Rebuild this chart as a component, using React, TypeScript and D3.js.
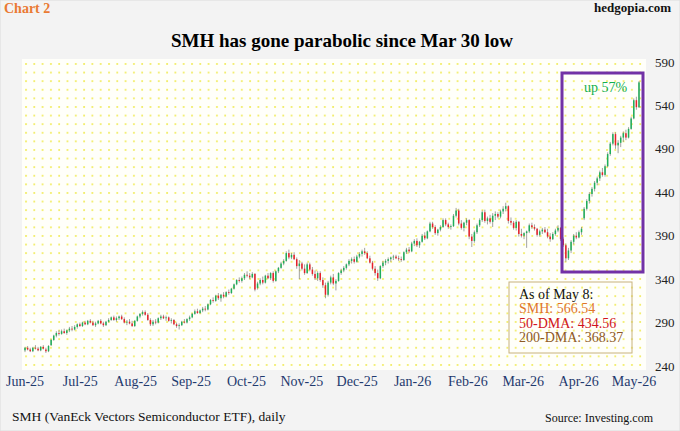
import * as d3 from "d3";

type Candle = [number, number, number, number]; // open, high, low, close

// daily SMH candles
const jun25: Candle[] = [
  [258, 262, 256, 261], [261, 263, 258, 259], [259, 261, 256, 257], [257, 262, 256, 261],
  [261, 264, 259, 260], [260, 262, 257, 258], [258, 263, 257, 262], [262, 264, 259, 260],
  [259, 261, 255, 257], [257, 264, 256, 263], [264, 271, 263, 270], [270, 276, 269, 275],
  [275, 280, 273, 278], [278, 281, 275, 277], [277, 282, 276, 280], [280, 283, 277, 278],
  [278, 282, 276, 281], [281, 285, 279, 283], [283, 286, 280, 282], [282, 287, 281, 285],
];
const jul25: Candle[] = [
  [285, 289, 283, 288], [288, 290, 285, 286], [286, 291, 285, 290], [290, 292, 287, 288],
  [288, 293, 287, 292], [292, 294, 289, 290], [290, 292, 286, 287], [287, 291, 285, 289],
  [289, 293, 288, 292], [292, 294, 288, 289], [289, 291, 285, 287], [287, 292, 286, 291],
  [291, 295, 290, 293], [293, 297, 292, 296], [296, 298, 292, 293], [293, 297, 291, 295],
  [295, 298, 293, 297], [297, 299, 293, 294], [294, 296, 289, 290], [290, 293, 287, 291],
  [291, 294, 288, 289], [289, 292, 285, 286],
];
const aug25: Candle[] = [
  [286, 293, 285, 292], [292, 298, 291, 297], [297, 301, 295, 300], [300, 304, 298, 302],
  [302, 304, 298, 299], [299, 301, 292, 293], [293, 295, 286, 288], [288, 293, 286, 291],
  [291, 294, 288, 290], [290, 296, 289, 295], [295, 299, 293, 297], [297, 299, 294, 295],
  [295, 298, 292, 296], [296, 297, 291, 292], [292, 295, 289, 293], [293, 294, 287, 288],
  [288, 290, 284, 286], [286, 289, 282, 287], [287, 292, 286, 291], [291, 294, 289, 290],
  [290, 295, 289, 294],
];
const sep25: Candle[] = [
  [294, 298, 292, 296], [296, 301, 295, 300], [300, 305, 299, 303], [303, 306, 300, 301],
  [301, 305, 300, 304], [304, 308, 302, 306], [306, 309, 303, 305], [305, 312, 304, 311],
  [311, 317, 310, 316], [316, 319, 313, 315], [315, 322, 314, 321], [321, 324, 316, 318],
  [318, 323, 314, 322], [322, 325, 318, 320], [320, 326, 319, 325], [325, 328, 322, 324],
  [324, 330, 323, 329], [329, 335, 328, 334], [334, 340, 333, 339], [339, 342, 336, 338],
  [338, 343, 336, 341],
];
const oct25: Candle[] = [
  [341, 347, 339, 345], [345, 349, 342, 344], [344, 347, 340, 342], [342, 348, 341, 346],
  [346, 347, 326, 328], [330, 337, 328, 335], [335, 341, 333, 339], [339, 343, 334, 336],
  [336, 345, 335, 344], [344, 347, 340, 341], [341, 348, 339, 347], [347, 349, 336, 338],
  [338, 350, 337, 349], [349, 354, 347, 353], [353, 360, 352, 358], [358, 363, 356, 361],
  [361, 372, 360, 370], [370, 374, 363, 365], [365, 370, 363, 368], [368, 371, 362, 363],
  [363, 365, 352, 355], [355, 362, 340, 358], [358, 360, 350, 352],
];
const nov25: Candle[] = [
  [352, 357, 345, 347], [347, 359, 346, 357], [357, 359, 349, 351], [351, 354, 344, 346],
  [346, 350, 339, 341], [341, 349, 338, 347], [347, 349, 337, 339], [339, 342, 330, 333],
  [333, 336, 318, 322], [322, 338, 320, 336], [336, 344, 334, 342], [342, 346, 333, 335],
  [335, 340, 327, 338], [338, 348, 337, 347], [347, 352, 345, 350], [350, 355, 348, 353],
  [353, 358, 351, 357], [357, 363, 355, 361], [361, 365, 358, 363],
];
const dec25: Candle[] = [
  [363, 366, 358, 360], [360, 368, 359, 366], [366, 371, 364, 369], [369, 374, 366, 372],
  [372, 376, 368, 370], [370, 372, 363, 364], [364, 367, 358, 359], [359, 361, 350, 352],
  [352, 355, 344, 347], [347, 351, 338, 341], [341, 356, 340, 355], [355, 361, 353, 359],
  [359, 363, 356, 361], [361, 365, 358, 363], [363, 366, 360, 365], [365, 368, 362, 366],
  [366, 368, 363, 364], [364, 367, 361, 363], [363, 366, 360, 362], [362, 372, 361, 371],
  [371, 376, 369, 374], [374, 377, 370, 372],
];
const jan26: Candle[] = [
  [372, 383, 371, 381], [381, 386, 378, 384], [384, 387, 377, 379], [379, 384, 376, 383],
  [383, 392, 382, 390], [390, 394, 385, 387], [387, 396, 386, 395], [395, 406, 394, 404],
  [404, 406, 398, 400], [400, 402, 391, 393], [393, 398, 390, 397], [397, 402, 395, 400],
  [400, 410, 399, 408], [408, 410, 401, 403], [403, 405, 398, 400], [400, 403, 397, 401],
  [401, 415, 400, 413], [413, 422, 411, 419], [419, 421, 402, 404], [404, 408, 397, 399],
];
const feb26: Candle[] = [
  [399, 406, 395, 405], [405, 410, 402, 408], [408, 409, 386, 389], [389, 392, 377, 384],
  [384, 396, 382, 394], [394, 404, 392, 402], [402, 410, 400, 408], [408, 419, 406, 417],
  [417, 420, 405, 407], [407, 412, 403, 410], [410, 414, 404, 406], [406, 416, 400, 413],
  [413, 418, 408, 415], [415, 417, 410, 412], [412, 420, 410, 418], [418, 424, 415, 421],
  [421, 428, 418, 424], [424, 425, 404, 407], [407, 411, 402, 405],
];
const mar26: Candle[] = [
  [405, 407, 397, 399], [399, 408, 396, 406], [406, 407, 389, 392], [392, 398, 388, 390],
  [390, 394, 386, 393], [393, 396, 376, 395], [395, 404, 393, 402], [402, 405, 398, 400],
  [400, 403, 396, 398], [398, 399, 389, 391], [391, 397, 389, 395], [395, 399, 392, 397],
  [397, 400, 393, 394], [394, 398, 387, 389], [389, 393, 383, 386], [386, 394, 385, 392],
  [392, 398, 390, 396], [396, 402, 394, 399], [399, 400, 384, 386], [386, 388, 377, 379],
  [379, 381, 360, 364], [364, 376, 362, 373],
];
const apr26: Candle[] = [
  [373, 385, 370, 383], [383, 392, 380, 390], [390, 394, 386, 388], [388, 396, 387, 394],
  [394, 400, 391, 398], [410, 423, 408, 421], [421, 432, 419, 430], [430, 440, 427, 438],
  [438, 446, 435, 444], [444, 453, 441, 451], [451, 458, 448, 456], [456, 465, 453, 463],
  [463, 468, 458, 460], [460, 472, 458, 470], [470, 486, 469, 484], [484, 498, 482, 496],
  [496, 509, 494, 507], [507, 509, 490, 494], [494, 500, 485, 497], [497, 505, 492, 503],
  [503, 510, 498, 508],
];
const may26: Candle[] = [
  [508, 512, 500, 503], [503, 515, 502, 513], [513, 527, 512, 525], [525, 548, 524, 546],
  [546, 550, 535, 538], [538, 568, 537, 566.54],
];

const candles: Candle[] = [
  ...jun25, ...jul25, ...aug25, ...sep25, ...oct25, ...nov25,
  ...dec25, ...jan26, ...feb26, ...mar26, ...apr26, ...may26,
];

const monthLabels = [
  "Jun-25", "Jul-25", "Aug-25", "Sep-25", "Oct-25", "Nov-25",
  "Dec-25", "Jan-26", "Feb-26", "Mar-26", "Apr-26", "May-26",
];
const priceTicks = [240, 290, 340, 390, 440, 490, 540, 590];

const legendLines = [
  { text: "As of May 8:", color: "#111111" },
  { text: "SMH: 566.54", color: "#e0762a" },
  { text: "50-DMA: 434.56", color: "#d0141c" },
  { text: "200-DMA: 368.37", color: "#8e5a26" },
];

export default function App() {
  const width = 680;
  const height = 431;
  const plot = { left: 22, right: 646, top: 59, bottom: 370 };

  const x = d3.scaleLinear().domain([0, candles.length - 1]).range([25, 639]);
  const y = d3.scaleLinear().domain([240, 590]).range([366, 62]);
  const xLabel = d3.scalePoint<string>().domain(monthLabels).range([25, 634]);

  const serif = "'Liberation Serif', 'Times New Roman', serif";
  const bodyW = 1.5;

  return (
    <svg
      width={width}
      height={height}
      style={{ position: "absolute", left: 0, top: 0, fontFamily: serif }}
    >
      <defs>
        <pattern id="dots" x={plot.left + 3} y={plot.top + 4} width={8.3} height={8.6} patternUnits="userSpaceOnUse">
          <circle cx={1} cy={1} r={1} fill="#efe94a" fillOpacity={0.95} />
        </pattern>
      </defs>
      <rect x={0} y={0} width={width} height={height} fill="#f3f3f3" stroke="#dcdcdc" />
      <rect
        x={plot.left}
        y={plot.top}
        width={plot.right - plot.left}
        height={plot.bottom - plot.top}
        fill="#fffffa"
      />
      <rect
        x={plot.left}
        y={plot.top}
        width={plot.right - plot.left}
        height={plot.bottom - plot.top}
        fill="url(#dots)"
      />

      <text x={4} y={13} fontSize={14} fontWeight="bold" fill="#ea7a33">Chart 2</text>
      <text x={671} y={12} fontSize={13} fontWeight="bold" textAnchor="end" fill="#111">hedgopia.com</text>
      <text x={342} y={47} fontSize={19} fontWeight="bold" textAnchor="middle" fill="#000">
        SMH has gone parabolic since Mar 30 low
      </text>

      {/* candles */}
      <g>
        {candles.map(([o, h, l, c], i) => {
          const up = c >= o;
          const color = up ? "#1fae5a" : "#e8202a";
          const top = y(Math.max(o, c));
          const bodyH = Math.max(Math.abs(y(o) - y(c)), 0.8);
          return (
            <g key={i}>
              <line x1={x(i)} x2={x(i)} y1={y(h)} y2={y(l)} stroke="#7a7a7a" strokeWidth={0.7} />
              <rect x={x(i) - bodyW / 2} y={top} width={bodyW} height={bodyH} fill={color} />
            </g>
          );
        })}
      </g>

      {/* highlight box */}
      <rect x={562} y={73} width={81} height={199} fill="none" stroke="#7232a6" strokeWidth={3} />
      <text x={584} y={92} fontSize={14} fill="#14b04e">up 57%</text>

      {/* legend */}
      <rect x={509} y={282} width={123} height={71} fill="none" stroke="#c8b27c" strokeWidth={1} />
      {legendLines.map((d, i) => (
        <text key={d.text} x={519} y={299 + i * 14.3} fontSize={14} fill={d.color}>
          {d.text}
        </text>
      ))}

      {/* right axis */}
      {priceTicks.map((t) => (
        <text key={t} x={655} y={y(t) + 4.5} fontSize={13} fill="#222">
          {t}
        </text>
      ))}

      {/* month labels */}
      {monthLabels.map((m) => (
        <text key={m} x={xLabel(m)} y={386} fontSize={14} textAnchor="middle" fill="#1f3a6e">
          {m}
        </text>
      ))}

      <text x={12} y={421} fontSize={13.5} fill="#111">SMH (VanEck Vectors Semiconductor ETF), daily</text>
      <text x={653} y={422} fontSize={12} textAnchor="end" fill="#111">Source: Investing.com</text>
    </svg>
  );
}
